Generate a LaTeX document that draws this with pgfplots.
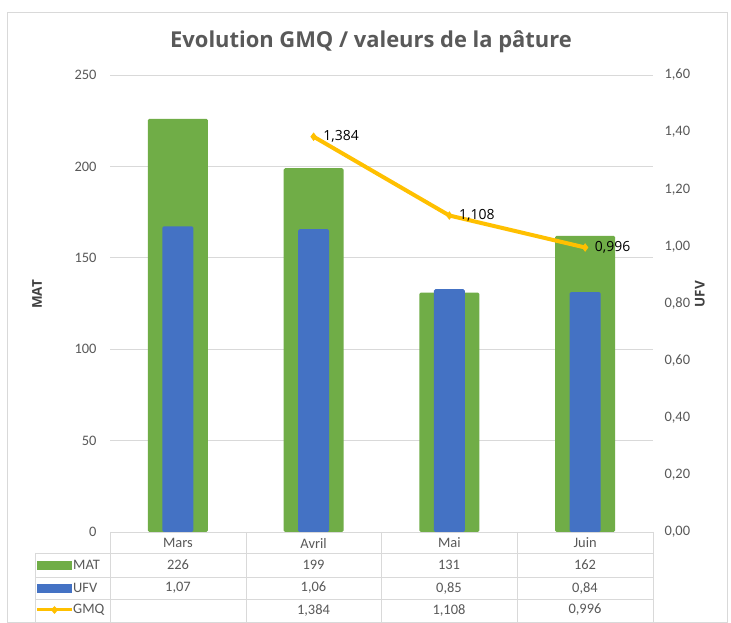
\documentclass[border=0pt]{standalone}
\usepackage{pgfplots}
\pgfplotsset{compat=1.18}
\usepackage{fontspec}
\setmainfont{Carlito}[Ligatures=NoCommon]
\newfontfamily\osans{Open Sans}
\definecolor{cgreen}{HTML}{70AD47}
\definecolor{cblue}{HTML}{4472C4}
\definecolor{cyellow}{HTML}{FFC000}
\definecolor{ctext}{HTML}{595959}
\definecolor{cgrid}{HTML}{D9D9D9}
\definecolor{clab}{HTML}{404040}
\begin{document}
\begin{tikzpicture}[x=1bp,y=1bp]
\useasboundingbox (0,0) rectangle (731,623);
\fill[white] (0,0) rectangle (731,623);
\draw[cgrid, line width=0.75bp] (7,1) rectangle (727,611);
\node[anchor=base, font=\osans\fontsize{22}{26}\selectfont\bfseries, text=ctext] at (371,575) {Evolution GMQ / valeurs de la pâture};

\begin{axis}[
  at={(110bp,91bp)}, anchor=south west, scale only axis,
  width=543bp, height=457bp,
  xmin=-0.5, xmax=3.5, ymin=0, ymax=250,
  ytick={0,50,100,150,200,250},
  xtick={0,1,2,3}, xticklabels={Mars,Avril,Mai,Juin},
  ymajorgrids, grid style={cgrid, line width=0.75bp},
  axis line style={draw=none}, major tick length=0pt,
  tick label style={font=\fontsize{14.5}{16}\selectfont, text=ctext},
  /pgf/number format/assume math mode=true,
  yticklabel style={xshift=-10bp},
  xticklabel style={anchor=center, yshift=-11bp},
  every axis y label/.style={at={(axis description cs:0,0.52)}, xshift=-73bp, rotate=90, anchor=center, font=\osans\fontsize{13.5}{16}\selectfont\bfseries, text=clab},
  ylabel=MAT,
  clip=false,
]
\addplot[ybar, bar width=60bp, fill=cgreen, draw=none, rounded corners=1.5bp] coordinates {(0,226) (1,199) (2,131) (3,162)};
\end{axis}

\begin{axis}[
  at={(110bp,91bp)}, anchor=south west, scale only axis,
  width=543bp, height=457bp,
  xmin=-0.5, xmax=3.5, ymin=0, ymax=1.6,
  ytick={0,0.2,0.4,0.6,0.8,1.0,1.2,1.4,1.6},
  xtick=\empty,
  yticklabel pos=right,
  axis line style={draw=none}, major tick length=0pt,
  tick label style={font=\fontsize{14.5}{16}\selectfont, text=ctext},
  /pgf/number format/assume math mode=true,
  yticklabel style={xshift=8bp, /pgf/number format/.cd, fixed, fixed zerofill, precision=2, use comma},
  every axis y label/.style={at={(axis description cs:1,0.52)}, xshift=47bp, rotate=90, anchor=center, font=\osans\fontsize{13.5}{16}\selectfont\bfseries, text=clab},
  ylabel=UFV,
  clip=false,
]
\addplot[ybar, bar width=31bp, fill=cblue, draw=none, rounded corners=1.5bp] coordinates {(0,1.07) (1,1.06) (2,0.85) (3,0.84)};
\addplot[cyellow, line width=4bp, mark=diamond*, mark size=3.5bp,
  mark options={fill=cyellow, draw=cyellow, line width=1bp},
  nodes near coords={\pgfmathprintnumber[fixed,fixed zerofill,precision=3,use comma,assume math mode=true]{\pgfplotspointmeta}},
  every node near coord/.append style={anchor=west, xshift=6bp, font=\osans\fontsize{14}{17}\selectfont, text=black}]
  coordinates {(1,1.384) (2,1.108) (3,0.996)};
\end{axis}

% data table
\begin{scope}[cgrid, line width=0.75bp]
\draw (110,91) -- (653,91);
\draw (35,70) -- (653,70);
\draw (35,46) -- (653,46);
\draw (35,24) -- (653,24);
\draw (35,1) -- (653,1);
\draw (35,70) -- (35,1);
\foreach \xx in {110,246,381,517,653} {\draw (\xx,91) -- (\xx,1);}
\end{scope}
\begin{scope}[font=\fontsize{14.5}{16}\selectfont, text=ctext]
\fill[cgreen] (37,53) rectangle (72,62);
\node[anchor=west, inner sep=0pt] at (73,58) {MAT};
\fill[cblue] (37,30) rectangle (72,39);
\node[anchor=west, inner sep=0pt] at (73,35) {UFV};
\draw[cyellow, line width=3bp] (37,13) -- (72,13);
\fill[cyellow] (54.5,17) -- (58,13) -- (54.5,9) -- (51,13) -- cycle;
\node[anchor=west, inner sep=0pt] at (73,13) {GMQ};
\node at (178,58) {226};
\node at (313.5,58) {199};
\node at (449,58) {131};
\node at (585,58) {162};
\node at (178,35) {1,07};
\node at (313.5,35) {1,06};
\node at (449,35) {0,85};
\node at (585,35) {0,84};
\node at (313.5,13) {1,384};
\node at (449,13) {1,108};
\node at (585,13) {0,996};
\end{scope}
\end{tikzpicture}
\end{document}
